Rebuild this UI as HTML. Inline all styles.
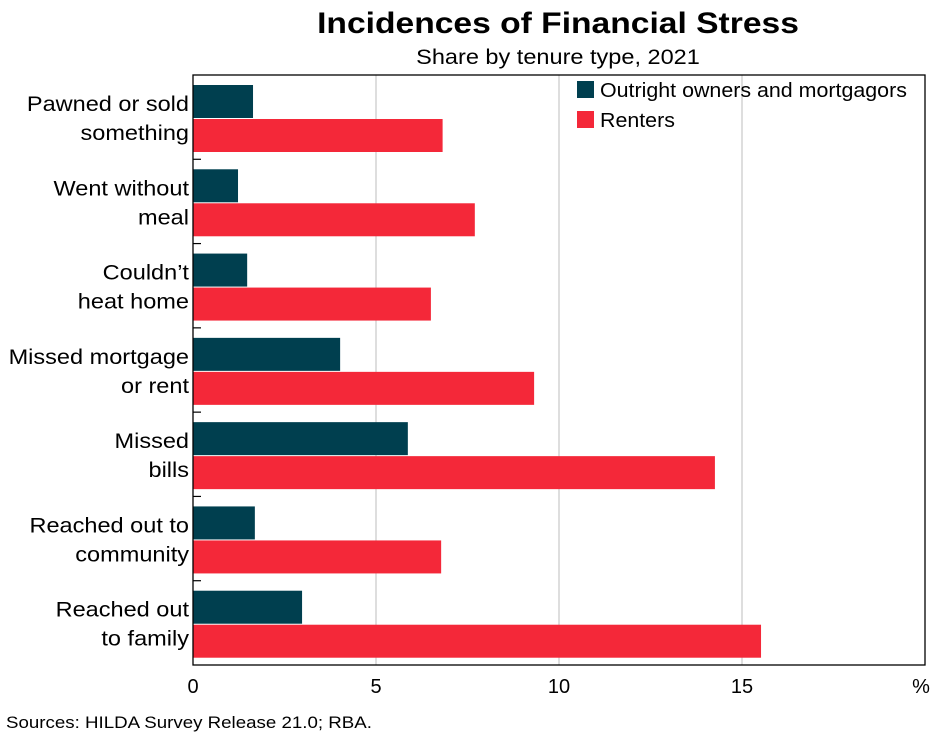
<!DOCTYPE html>
<html><head><meta charset="utf-8"><style>
body{margin:0;background:#fff;}
svg{display:block;font-family:"Liberation Sans",Arial,sans-serif;}
</style></head><body>
<svg id="c" width="942" height="750" xmlns="http://www.w3.org/2000/svg">
<text class="w" data-f="1.12" x="558" y="33" text-anchor="middle" font-size="30" font-weight="bold" fill="#000">Incidences of Financial Stress</text>
<text class="w" data-f="1.12" x="558" y="64" text-anchor="middle" font-size="21" fill="#000">Share by tenure type, 2021</text>
<g id="grid"></g>
<g id="bars"></g>
<g id="labels"></g>
<rect x="193" y="75" width="732" height="590" fill="none" stroke="#000" stroke-width="1.3"/>
<g>
<rect x="577" y="81" width="17" height="17" fill="#003f4f"/>
<text class="w" data-f="1.07" x="600" y="97" font-size="20">Outright owners and mortgagors</text>
<rect x="577" y="111" width="17" height="17" fill="#f42839"/>
<text class="w" data-f="1.07" x="600" y="127" font-size="20">Renters</text>
</g>
<text x="921" y="693" font-size="20" text-anchor="middle">%</text>
<text class="w" data-f="1.1" x="6" y="728" font-size="17">Sources: HILDA Survey Release 21.0; RBA.</text>
</svg>
<script>
const categories=[["Pawned or sold","something"],["Went without","meal"],["Couldn’t","heat home"],["Missed mortgage","or rent"],["Missed","bills"],["Reached out to","community"],["Reached out","to family"]];
const owners=[1.64,1.23,1.48,4.02,5.87,1.69,2.98];
const renters=[6.82,7.7,6.5,9.32,14.26,6.78,15.52];
const xTicks=[0,5,10,15];
const NS="http://www.w3.org/2000/svg";
const X0=193,X1=925,Y0=75,Y1=665,XMAX=20;
const xs=v=>X0+v/XMAX*(X1-X0);
const rowH=(Y1-Y0)/categories.length;
function mk(t,a,p){const e=document.createElementNS(NS,t);for(const k in a)e.setAttribute(k,a[k]);p.appendChild(e);return e;}
const grid=document.getElementById('grid'),bars=document.getElementById('bars'),labels=document.getElementById('labels');
xTicks.forEach(v=>{
  if(v>0){const l=mk('line',{x1:xs(v),x2:xs(v),y1:Y0,y2:Y1,stroke:'#c8c8c8','stroke-width':1.2},grid);
  
  }
  const t=mk('text',{x:xs(v),y:693,'font-size':20,'text-anchor':'middle'},labels);t.textContent=v;
  
  
});
categories.forEach((c,i)=>{
  const top=Y0+i*rowH;
  const b1=mk('rect',{x:X0,y:top+10,width:xs(owners[i])-X0,height:33,fill:'#003f4f'},bars);
  
  
  const b2=mk('rect',{x:X0,y:top+44,width:xs(renters[i])-X0,height:33,fill:'#f42839'},bars);
  
  
  if(i>0){const tk=mk('line',{x1:X0,x2:X0+8,y1:top,y2:top,stroke:'#000','stroke-width':1.2},grid);
  
  }
  c.forEach((s,j)=>{const t=mk('text',{x:189,y:top+36+j*29,'font-size':21,'text-anchor':'end','class':'w','data-f':'1.12'},labels);t.textContent=s;
  
  });
});
document.querySelectorAll('text.w').forEach(t=>{
  const w=t.getComputedTextLength();
  t.setAttribute('textLength',(w*parseFloat(t.getAttribute('data-f'))).toFixed(1));
  t.setAttribute('lengthAdjust','spacingAndGlyphs');
});
</script>
</body></html>
